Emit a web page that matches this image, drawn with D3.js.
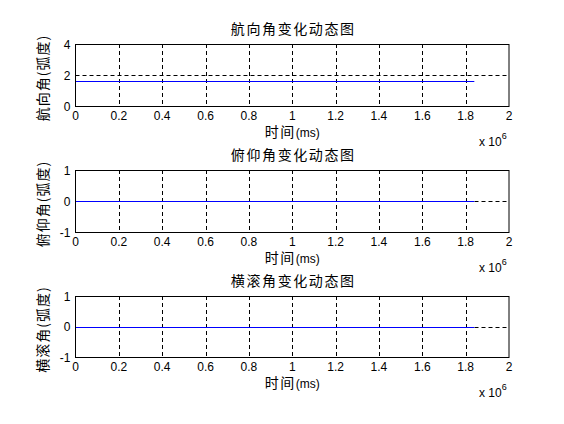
<!DOCTYPE html>
<html>
<head>
<meta charset="utf-8">
<script src="https://cdn.jsdelivr.net/npm/d3@7"></script>
<style>
  body { margin: 0; background: #fff; }
  text { fill: #000; }
</style>
</head>
<body>
<div id="chart"></div>
<script>
"use strict";

// time samples (ms) and the three attitude angles (rad)
const timeMs = [0, 400000, 800000, 1200000, 1600000, 1840000];
const heading = [1.6, 1.6, 1.6, 1.6, 1.6, 1.6];
const pitch = [0, 0, 0, 0, 0, 0];
const roll = [0, 0, 0, 0, 0, 0];

const xTicks = [0, 0.2e6, 0.4e6, 0.6e6, 0.8e6, 1e6, 1.2e6, 1.4e6, 1.6e6, 1.8e6, 2e6];
const xTickLabels = ["0", "0.2", "0.4", "0.6", "0.8", "1", "1.2", "1.4", "1.6", "1.8", "2"];

const panels = [
    { title: "航向角变化动态图", ylabel: "航向角(弧度)", values: heading, yDomain: [0, 4], yTicks: [0, 2, 4], top: 44, bottom: 106 },
    { title: "俯仰角变化动态图", ylabel: "俯仰角(弧度)", values: pitch, yDomain: [-1, 1], yTicks: [-1, 0, 1], top: 170, bottom: 232 },
    { title: "横滚角变化动态图", ylabel: "横滚角(弧度)", values: roll, yDomain: [-1, 1], yTicks: [-1, 0, 1], top: 296, bottom: 357 }
];

const W = 564, H = 424;
const left = 75.5, right = 509;
const cjk = "'Noto Sans CJK SC', sans-serif";
const latin = "'Liberation Sans', Arial, sans-serif";

const svg = d3.select("#chart").append("svg")
              .attr("width", W)
              .attr("height", H);

const xScale = d3.scaleLinear().domain([0, 2e6]).range([left, right]);

panels.forEach(p => {
    const yScale = d3.scaleLinear().domain(p.yDomain).range([p.bottom, p.top]);
    const g = svg.append("g");

    // grid lines
    g.selectAll("line.vgrid").data(xTicks.slice(1, -1)).enter()
     .append("line")
     .attr("x1", d => Math.round(xScale(d)) + 0.5)
     .attr("x2", d => Math.round(xScale(d)) + 0.5)
     .attr("y1", p.top).attr("y2", p.bottom)
     .attr("stroke", "#000").attr("stroke-width", 1)
     .attr("stroke-dasharray", "4,3");
    g.selectAll("line.hgrid").data(p.yTicks.slice(1, -1)).enter()
     .append("line")
     .attr("x1", left).attr("x2", right)
     .attr("y1", d => Math.round(yScale(d)) + 0.5)
     .attr("y2", d => Math.round(yScale(d)) + 0.5)
     .attr("stroke", "#000").attr("stroke-width", 1)
     .attr("stroke-dasharray", "4,3");

    // data line
    const line = d3.line()
                   .x((d, i) => xScale(timeMs[i]))
                   .y(d => Math.round(yScale(d)) + 0.5);
    g.append("path")
     .datum(p.values)
     .attr("d", line)
     .attr("fill", "none")
     .attr("stroke", "#0000ff")
     .attr("stroke-width", 1.1);

    // box
    g.append("rect")
     .attr("x", left).attr("y", p.top + 0.5)
     .attr("width", right - left).attr("height", p.bottom - p.top)
     .attr("fill", "none").attr("stroke", "#000").attr("stroke-width", 1);

    // x tick labels
    g.selectAll("text.xt").data(xTicks).enter()
     .append("text")
     .attr("x", d => xScale(d))
     .attr("y", p.bottom + 13.5)
     .attr("text-anchor", "middle")
     .style("font-family", latin).style("font-size", "12px")
     .text((d, i) => xTickLabels[i]);

    // y tick labels
    g.selectAll("text.yt").data(p.yTicks).enter()
     .append("text")
     .attr("x", left - 5)
     .attr("y", d => yScale(d) + 4.5)
     .attr("text-anchor", "end")
     .style("font-family", latin).style("font-size", "12px")
     .text(d => d);

    // title
    g.append("text")
     .attr("x", (left + right) / 2 + 1)
     .attr("y", p.top - 10)
     .attr("text-anchor", "middle")
     .style("font-family", cjk).style("font-size", "14px")
     .style("letter-spacing", "1.6px")
     .text(p.title);

    // x label
    const xl = g.append("text")
                .attr("x", (left + right) / 2)
                .attr("y", p.bottom + 31)
                .attr("text-anchor", "middle");
    xl.append("tspan").style("font-family", cjk).style("font-size", "14px")
      .style("letter-spacing", "1.5px").text("时间");
    xl.append("tspan").style("font-family", latin).style("font-size", "12px").text("(ms)");

    // y label
    g.append("text")
     .attr("transform", `translate(${left - 28}, ${(p.top + p.bottom) / 2 + 3}) rotate(-90)`)
     .attr("text-anchor", "middle")
     .style("font-family", cjk).style("font-size", "14px")
     .style("letter-spacing", "1px")
     .text(p.ylabel);

    // exponent
    const ex = g.append("text")
                .attr("x", 479)
                .attr("y", p.bottom + 40)
                .style("font-family", latin).style("font-size", "12px");
    ex.append("tspan").text("x 10");
    ex.append("tspan").attr("dy", -7).style("font-size", "9px").text("6");
});
</script>
</body>
</html>
